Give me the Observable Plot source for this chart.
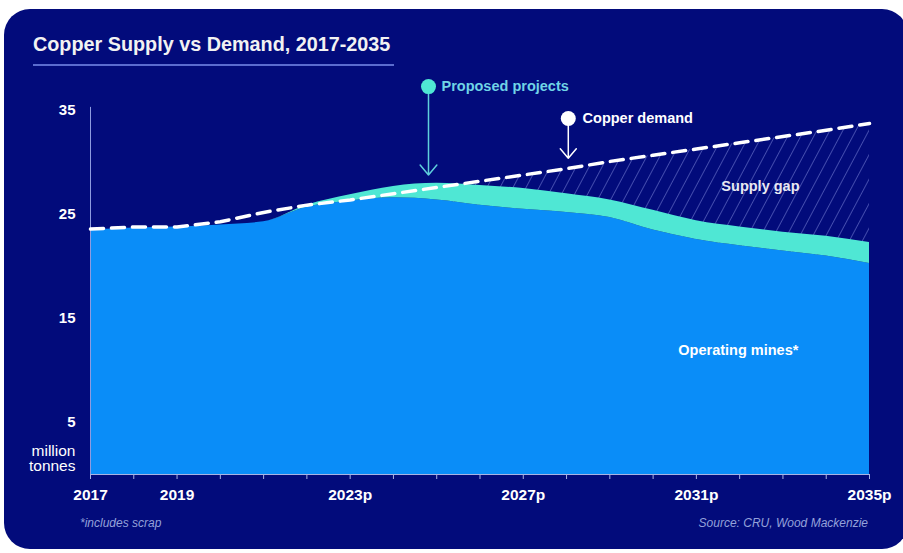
<!DOCTYPE html>
<html>
<head>
<meta charset="utf-8">
<script src="https://cdn.jsdelivr.net/npm/d3@7"></script>
<script src="https://cdn.jsdelivr.net/npm/@observablehq/plot@0.6"></script>
<style>
  html, body { margin: 0; padding: 0; background: #ffffff; }
  #wrap { position: relative; width: 903px; height: 553px; overflow: hidden; background: #ffffff; font-family: "Liberation Sans", Arial, sans-serif; }
  #card { position: absolute; left: 4px; top: 9px; width: 904px; height: 540px; background: #020b7b; border-radius: 26px; }
  #title { position: absolute; left: 33px; top: 33px; color: #f2f2f2; font-size: 19.8px; font-weight: bold; white-space: nowrap; }
  #rule { position: absolute; left: 33px; top: 64px; width: 361px; height: 2px; background: #5b6ccf; }
  #chart { position: absolute; left: 0; top: 0; }
  .foot { position: absolute; top: 516px; color: #94a1da; font-size: 12px; font-style: italic; white-space: nowrap; }
</style>
</head>
<body>
<div id="wrap">
  <div id="card"></div>
  <div id="title">Copper Supply vs Demand, 2017-2035</div>
  <div id="rule"></div>
  <div id="chart"></div>
  <div class="foot" style="left:80px">*includes scrap</div>
  <div class="foot" style="right:35px">Source: CRU, Wood Mackenzie</div>
</div>
<script>
// Years (x categories)
const years = [2017, 2018, 2019, 2020, 2021, 2022, 2023, 2024, 2025, 2026, 2027, 2028, 2029, 2030, 2031, 2032, 2033, 2034, 2035];
// Operating mines supply (million tonnes, incl. scrap)
const operatingMines = [23.5, 23.7, 23.8, 24.0, 24.3, 25.7, 26.3, 26.6, 26.4, 25.9, 25.5, 25.2, 24.7, 23.5, 22.6, 22.0, 21.5, 21.0, 20.3];
// Operating mines + proposed projects (total supply)
const totalSupply = [23.5, 23.7, 23.8, 24.0, 24.3, 25.9, 26.9, 27.7, 28.0, 27.8, 27.5, 27.0, 26.4, 25.4, 24.4, 23.8, 23.3, 22.9, 22.3];
// Copper demand
const copperDemand = [23.6, 23.8, 23.8, 24.3, 25.2, 25.9, 26.4, 27.0, 27.6, 28.2, 28.8, 29.4, 30.1, 30.7, 31.3, 31.9, 32.5, 33.1, 33.75];
// Axis ticks
const yTicks = [5, 15, 25, 35];
const xTickYears = [2017, 2019, 2023, 2027, 2031, 2035];
const xTickLabels = ["2017", "2019", "2023p", "2027p", "2031p", "2035p"];

const data = years.map((year, i) => ({
  year,
  mines: operatingMines[i],
  supply: totalSupply[i],
  demand: copperDemand[i]
}));
const gapStart = 2025;

const tickLabel = (y) => {
  const k = xTickYears.indexOf(y);
  return k >= 0 ? xTickLabels[k] : "";
};

const font = "Liberation Sans, Arial, sans-serif";
const curve = "monotone-x";

const plot = Plot.plot({
  width: 903,
  height: 553,
  marginLeft: 90,
  marginRight: 34,
  marginTop: 110,
  marginBottom: 79,
  style: { background: "transparent", color: "#ffffff", fontFamily: font, overflow: "visible" },
  x: { domain: [2017, 2035] },
  y: { domain: [0, 35] },
  marks: [
    // hatched supply gap (covered below by supply areas)
    Plot.areaY(data.filter(d => d.year >= gapStart), { x: "year", y1: 0, y2: "demand", fill: "url(#hatch)" }),
    // operating mines
    Plot.areaY(data, { x: "year", y1: 0, y2: "mines", fill: "#0a8df8", curve }),
    // proposed projects
    Plot.areaY(data, { x: "year", y1: "mines", y2: "supply", fill: "#4fe7d4", curve }),
    // axes lines
    Plot.ruleX([2017], { y1: 0, y2: 35.3, stroke: "#8e9be0", strokeWidth: 1 }),
    Plot.ruleY([0], { stroke: "#a9b3e3", strokeWidth: 1.2 }),
    Plot.axisY({ ticks: yTicks, tickSize: 0, tickPadding: 15, label: null, fontSize: 15, fontWeight: "bold", fill: "#ffffff" }),
    Plot.axisX({ ticks: years, tickFormat: tickLabel, tickSize: 5, tickPadding: 9, label: null, fontSize: 15.5, fontWeight: "bold", fill: "#ffffff", stroke: "#a9b3e3" }),
    // demand line
    Plot.line(data, { x: "year", y: "demand", stroke: "#ffffff", strokeWidth: 3.5, strokeDasharray: "13,8" }),
    // annotations
    Plot.arrow([{ x1: 2024.81, y1: 37.1, x2: 2024.81, y2: 28.8 }], { x1: "x1", y1: "y1", x2: "x2", y2: "y2", stroke: "#5fcfdc", strokeWidth: 1.5, headLength: 13, headAngle: 80 }),
    Plot.dot([{ x: 2024.81, y: 37.3 }], { x: "x", y: "y", r: 7.5, fill: "#4fe7d4" }),
    Plot.text([{ x: 2025.11, y: 37.3, t: "Proposed projects" }], { x: "x", y: "y", text: "t", textAnchor: "start", fill: "#70d4e6", fontSize: 14.5, fontWeight: "bold" }),
    Plot.arrow([{ x1: 2028.04, y1: 34.0, x2: 2028.04, y2: 30.4 }], { x1: "x1", y1: "y1", x2: "x2", y2: "y2", stroke: "#ffffff", strokeWidth: 1.5, headLength: 13, headAngle: 80 }),
    Plot.dot([{ x: 2028.04, y: 34.23 }], { x: "x", y: "y", r: 7.5, fill: "#ffffff" }),
    Plot.text([{ x: 2028.37, y: 34.23, t: "Copper demand" }], { x: "x", y: "y", text: "t", textAnchor: "start", fill: "#ffffff", fontSize: 14.5, fontWeight: "bold" }),
    Plot.text([{ x: 2032.48, y: 27.7, t: "Supply gap" }], { x: "x", y: "y", text: "t", fill: "#e8e8f2", fontSize: 14.5, fontWeight: "bold" }),
    Plot.text([{ x: 2031.97, y: 11.9, t: "Operating mines*" }], { x: "x", y: "y", text: "t", fill: "#ffffff", fontSize: 14.5, fontWeight: "bold" }),
    Plot.text([{ x: 2017, y: 1.55, t: "million\ntonnes" }], { x: "x", y: "y", text: "t", textAnchor: "end", dx: -15, lineHeight: 1.0, fill: "#ffffff", fontSize: 15.5 })
  ]
});

// hatch pattern definition
const ns = "http://www.w3.org/2000/svg";
const defs = document.createElementNS(ns, "defs");
const pat = document.createElementNS(ns, "pattern");
pat.setAttribute("id", "hatch");
pat.setAttribute("patternUnits", "userSpaceOnUse");
pat.setAttribute("width", "11.5");
pat.setAttribute("height", "11.5");
pat.setAttribute("patternTransform", "rotate(28)");
const ln = document.createElementNS(ns, "line");
ln.setAttribute("x1", "0"); ln.setAttribute("y1", "0");
ln.setAttribute("x2", "0"); ln.setAttribute("y2", "11.5");
ln.setAttribute("stroke", "#8f98e6");
ln.setAttribute("stroke-opacity", "0.75");
ln.setAttribute("stroke-width", "1.2");
pat.appendChild(ln);
defs.appendChild(pat);
plot.insertBefore(defs, plot.firstChild);

document.getElementById("chart").appendChild(plot);
</script>
</body>
</html>
